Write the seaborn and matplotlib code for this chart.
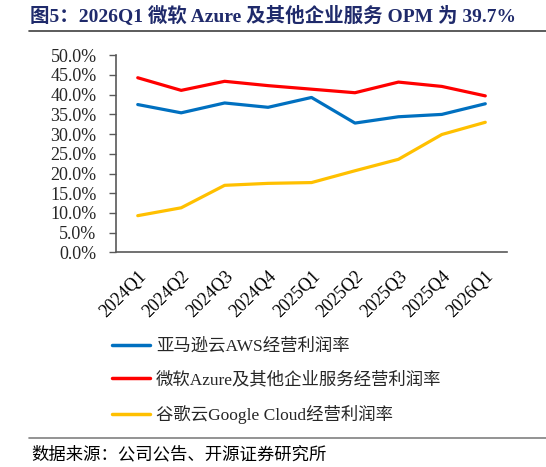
import matplotlib
matplotlib.use("Agg")
import matplotlib.pyplot as plt
import seaborn as sns
import pandas as pd
from matplotlib.lines import Line2D
from matplotlib.ticker import FuncFormatter, FixedLocator, NullFormatter

quarters = ["2024Q1", "2024Q2", "2024Q3", "2024Q4", "2025Q1",
            "2025Q2", "2025Q3", "2025Q4", "2026Q1"]
aws = [37.5, 35.4, 37.9, 36.8, 39.3, 32.8, 34.4, 35.0, 37.7]
azure = [44.3, 41.1, 43.4, 42.3, 41.4, 40.5, 43.2, 42.1, 39.7]
gcloud = [9.3, 11.3, 17.0, 17.5, 17.7, 20.7, 23.6, 29.9, 33.0]
series_names = ["亚马逊云AWS经营利润率", "微软Azure及其他企业服务经营利润率", "谷歌云Google Cloud经营利润率"]
colors = ["#0070C0", "#FF0000", "#FFC000"]
title = "图5：2026Q1 微软 Azure 及其他企业服务 OPM 为 39.7%"
source = "数据来源：公司公告、开源证券研究所"

df = pd.DataFrame({
    "quarter": quarters * 3,
    "value": aws + azure + gcloud,
    "series": [series_names[0]] * len(quarters) + [series_names[1]] * len(quarters) + [series_names[2]] * len(quarters),
})

sns.set_theme(style="white")
plt.rcParams["font.family"] = ["Liberation Serif", "Noto Sans CJK SC"]

fig = plt.figure(figsize=(5.46, 4.67), dpi=100)
ax = fig.add_axes([0.2125, 0.4597, 0.7161, 0.4219])

sns.lineplot(data=df, x="quarter", y="value", hue="series", palette=colors,
             linewidth=2.3, ax=ax, legend=False, sort=False)

ax.set_xlim(-0.5, len(quarters) - 0.5)
ax.set_ylim(0, 50)
ax.set_yticks(range(0, 51, 5))
ax.yaxis.set_major_formatter(FuncFormatter(lambda v, p: f"{v:.1f}%"))
ax.set_xticks(range(len(quarters)))
ax.set_xticklabels(quarters, rotation=45, ha="right", rotation_mode="anchor")
ax.xaxis.set_minor_locator(FixedLocator([i + 0.5 for i in range(len(quarters))]))
ax.xaxis.set_minor_formatter(NullFormatter())
ax.tick_params(axis="x", which="major", length=0, pad=11, labelsize=13, colors="#000000")
ax.tick_params(axis="x", which="minor", length=5, direction="in", color="#595959", width=1)
ax.tick_params(axis="y", which="major", length=5, direction="out", color="#595959", width=1,
               labelsize=13, pad=9, left=True)
ax.set_xlabel("")
ax.set_ylabel("")
for s in ["top", "right"]:
    ax.spines[s].set_visible(False)
for s in ["left", "bottom"]:
    ax.spines[s].set_color("#595959")
    ax.spines[s].set_linewidth(1.2)

handles = [Line2D([0], [0], color=c, lw=2.5) for c in colors]
fig.legend(handles, series_names, loc="upper left", bbox_to_anchor=(0.205, 0.275),
           frameon=False, fontsize=12.5, handlelength=2.2, handletextpad=0.35,
           labelspacing=0.95, borderaxespad=0, borderpad=0)

fig.text(0.055, 0.968, title, fontsize=14, fontweight="bold", color="#1F2A6B",
         va="center", ha="left")
fig.add_artist(Line2D([29 / 546, 1.0], [1 - 31 / 467] * 2, color="#404040", lw=1.2,
                      transform=fig.transFigure))
fig.add_artist(Line2D([29 / 546, 1.0], [1 - 438 / 467] * 2, color="#808080", lw=1.2,
                      transform=fig.transFigure))
fig.text(0.058, 1 - 455 / 467, source, fontsize=12.5, color="#000000", va="center", ha="left")

fig.savefig("out.png", dpi=100)
